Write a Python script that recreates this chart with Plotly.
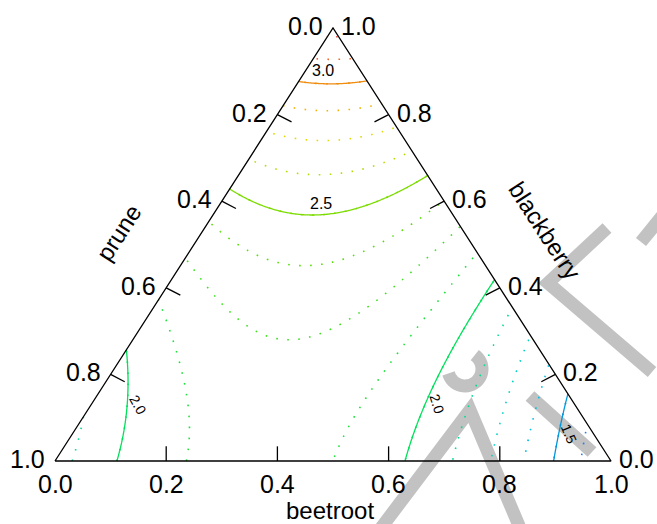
import numpy as np
import plotly.graph_objects as go

# ---------------------------------------------------------------
# Mixture response: crossings of the response contours, given as
# (beetroot, blackberry, level); prune = 1 - beetroot - blackberry
# ---------------------------------------------------------------
beetroot = [
    # blackberry = 0 edge
    0.117, 0.235, 0.501, 0.631, 0.716, 0.785, 0.842, 0.896, 0.943,
    # beetroot = 0 edge
    0.0, 0.0, 0.0, 0.0, 0.0, 0.0, 0.0, 0.0, 0.0, 0.0, 0.0,
    # prune = 0 edge
    0.924, 0.855, 0.775, 0.716, 0.651, 0.575, 0.52, 0.46, 0.40, 0.346,
    0.28, 0.23, 0.17, 0.125, 0.07, 0.02,
    # interior
    0.187, 0.21, 0.292, 0.138, 0.112, 0.106, 0.072,
    0.60, 0.591, 0.484, 0.494, 0.515, 0.452, 0.387,
    0.066, 0.099, 0.18, 0.063,
    0.639, 0.685, 0.729, 0.774, 0.805, 0.841,
    0.021, 0.131, 0.225, 0.353, 0.396, 0.44,
    0.022, 0.116, 0.284, 0.359,
    0.089, 0.263, 0.32,
]
blackberry = [
    0.0, 0.0, 0.0, 0.0, 0.0, 0.0, 0.0, 0.0, 0.0,
    0.256, 0.376, 0.47, 0.552, 0.63, 0.697, 0.76, 0.82, 0.878, 0.931, 0.979,
    0.076, 0.145, 0.225, 0.284, 0.349, 0.425, 0.48, 0.54, 0.60, 0.654,
    0.72, 0.77, 0.83, 0.875, 0.93, 0.98,
    0.568, 0.45, 0.286, 0.66, 0.737, 0.806, 0.871,
    0.148, 0.287, 0.1755, 0.296, 0.473, 0.529, 0.582,
    0.286, 0.24, 0.122, 0.118,
    0.322, 0.164, 0.172, 0.215, 0.099, 0.145,
    0.45, 0.356, 0.2986, 0.319, 0.388, 0.457,
    0.537, 0.48, 0.4665, 0.533,
    0.5836, 0.595, 0.637,
]
response = [
    2.0, 2.125, 2.125, 2.0, 1.875, 1.75, 1.625, 1.5, 1.375,
    2.0, 2.125, 2.25, 2.375, 2.5, 2.625, 2.75, 2.875, 3.0, 3.125, 3.25,
    1.375, 1.5, 1.625, 1.75, 1.875, 2.0, 2.125, 2.25, 2.375, 2.5,
    2.625, 2.75, 2.875, 3.0, 3.125, 3.25,
    2.5, 2.375, 2.25, 2.625, 2.75, 2.875, 3.0,
    2.0, 2.0, 2.125, 2.125, 2.125, 2.25, 2.375,
    2.125, 2.125, 2.125, 2.0,
    1.875, 1.875, 1.75, 1.625, 1.625, 1.5,
    2.25, 2.25, 2.25, 2.25, 2.25, 2.25,
    2.375, 2.375, 2.375, 2.375,
    2.5, 2.5, 2.5,
]

axis_ticks = [0.0, 0.2, 0.4, 0.6, 0.8, 1.0]
level_step = 0.125
minor_range = (1.375, 3.25)
major_range = (1.5, 3.0)
major_step = 0.5
level_labels = ["3.0", "2.5", "2.0", "2.0", "1.5"]

# colour of every contour level, low (blue) to high (red)
level_colors = {
    1.375: "#2a78f0", 1.5: "#0096dc", 1.625: "#00c0e6", 1.75: "#00d2c4",
    1.875: "#00dc96", 2.0: "#00e05a", 2.125: "#1ee03c", 2.25: "#3ee020",
    2.375: "#5ade0a", 2.5: "#7cdc00", 2.625: "#b2de00", 2.75: "#e2da00",
    2.875: "#f2b400", 3.0: "#f08c10", 3.125: "#f06a30", 3.25: "#f04a40",
}


def scheffe_cubic(b, p, k):
    return np.stack([b, p, k, b * p, b * k, p * k,
                     b * p * (b - p), b * k * (b - k), p * k * (p - k),
                     b * p * k], axis=-1)


b_obs = np.array(beetroot)
k_obs = np.array(blackberry)
p_obs = 1.0 - b_obs - k_obs
coef, *_ = np.linalg.lstsq(scheffe_cubic(b_obs, p_obs, k_obs),
                           np.array(response), rcond=None)

# response surface on a grid of the (x = beetroot + blackberry/2, y = blackberry) plane
n = 361
gx = np.linspace(0.0, 1.0, n)
gy = np.linspace(0.0, 1.0, n)
X, Y = np.meshgrid(gx, gy)
Bg = X - Y / 2.0
Kg = Y
Pg = 1.0 - Bg - Kg
Z = scheffe_cubic(Bg, Pg, Kg) @ coef
Z[(Bg < -0.002) | (Pg < -0.002)] = np.nan


def scale_for(lo, hi, step):
    lv = np.arange(lo, hi + step / 2, step)
    return [[i / (len(lv) - 1), level_colors[round(float(v), 3)]] for i, v in enumerate(lv)]


# page geometry (pixels): triangle base from x=55 to x=611 at y=461, apex at y=28
W, H = 657, 524
X0, X1, YB, YT = 55.0, 611.0, 461.0, 28.0
SX = X1 - X0
SY = YB - YT

fig = go.Figure()

fig.add_trace(go.Contour(
    x=gx, y=gy, z=Z,
    colorscale=scale_for(*minor_range, level_step), showscale=False, hoverinfo="skip",
    contours=dict(coloring="lines", showlabels=False,
                  start=minor_range[0], end=minor_range[1], size=level_step),
    line=dict(width=1.6, dash="1.6px,9.4px", smoothing=1.0),
))
fig.add_trace(go.Contour(
    x=gx, y=gy, z=Z,
    colorscale=scale_for(*major_range, major_step), showscale=False, hoverinfo="skip",
    contours=dict(coloring="lines", showlabels=False,
                  start=major_range[0], end=major_range[1], size=major_step),
    line=dict(width=1.3, smoothing=1.0),
))

# triangle frame
fig.add_trace(go.Scatter(
    x=[0, 1, 0.5, 0], y=[0, 0, 1, 0], mode="lines",
    line=dict(color="black", width=1.3), hoverinfo="skip", showlegend=False,
))

# inward ticks, perpendicular to each side
tick_len = 16.3
tx, ty = [], []
for v in axis_ticks[1:-1]:
    # beetroot (bottom)
    tx += [v, v, None]
    ty += [0, tick_len * 0.9 / SY, None]
    # prune (left): prune = v
    k = 1 - v
    tx += [k / 2, k / 2 + tick_len * 0.866 / SX, None]
    ty += [k, k - tick_len * 0.45 / SY, None]
    # blackberry (right): blackberry = v
    tx += [1 - v / 2, 1 - v / 2 - tick_len * 0.866 / SX, None]
    ty += [v, v - tick_len * 0.45 / SY, None]
fig.add_trace(go.Scatter(
    x=tx, y=ty, mode="lines", line=dict(color="black", width=1.3),
    hoverinfo="skip", showlegend=False,
))

FONT = "Liberation Sans, Arial, sans-serif"
ann = []
for v in axis_ticks:
    t = f"{v:.1f}"
    ann.append(dict(x=v, y=0, text=t, xanchor="center", yanchor="middle",
                    yshift=-23, font=dict(size=25)))
    k = 1 - v
    ann.append(dict(x=k / 2, y=k, text=t, xanchor="right", yanchor="middle",
                    xshift=-8, yshift=2, font=dict(size=25)))
    ann.append(dict(x=1 - v / 2, y=v, text=t, xanchor="left", yanchor="middle",
                    xshift=6, yshift=2, font=dict(size=25)))

# axis titles
ann.append(dict(x=(330 - X0) / SX, y=(YB - 510) / SY, text="beetroot",
                xanchor="center", yanchor="middle", font=dict(size=24)))
ann.append(dict(x=(118 - X0) / SX, y=(YB - 233) / SY, text="prune", textangle=-57,
                xanchor="center", yanchor="middle", font=dict(size=24)))
ann.append(dict(x=(545 - X0) / SX, y=(YB - 230) / SY, text="blackberry", textangle=57,
                xanchor="center", yanchor="middle", font=dict(size=24)))

# contour level labels
label_px = [(323, 70, 0, 16), (321, 203, 0, 16), (437, 404, 72, 14),
            (138, 405, 60, 14), (569, 434, 67, 14)]
for txt, (px, py, ang, fs) in zip(level_labels, label_px):
    ann.append(dict(x=(px - X0) / SX, y=(YB - py) / SY, text=txt, textangle=ang,
                    xanchor="center", yanchor="middle", font=dict(size=fs)))

for a in ann:
    a.update(xref="x", yref="y", showarrow=False)
    a["font"].update(family=FONT, color="black")


# faint grey watermark strokes behind the plot (page pixels)
def pg(px, py):
    return px / W, 1 - py / H


def poly_path(pts):
    return "M " + " L ".join(f"{pg(x, y)[0]:.5f},{pg(x, y)[1]:.5f}" for x, y in pts)


mark_strokes = [
    [(607, 228), (548, 283), (652, 372)],
    [(641, 242), (672, 204)],
    [(530, 396), (592, 452)],
    [(378, 532), (470, 410), (520, 528)],
]
arc = [(465 + 17 * np.cos(a), 369 + 17 * np.sin(a))
       for a in np.radians(np.linspace(-55, 165, 30))]
mark_strokes.append(arc)

shapes = [dict(type="path", path=poly_path(s), xref="paper", yref="paper",
               layer="below", line=dict(color="#c2c2c2", width=13))
          for s in mark_strokes]

fig.update_layout(
    width=W, height=H, margin=dict(l=0, r=0, t=0, b=0),
    paper_bgcolor="white", plot_bgcolor="rgba(0,0,0,0)", showlegend=False,
    xaxis=dict(range=[-X0 / SX, (W - X0) / SX], visible=False, fixedrange=True),
    yaxis=dict(range=[-(H - YB) / SY, YB / SY], visible=False, fixedrange=True),
    annotations=ann, shapes=shapes,
)

fig.write_html("out.html")
